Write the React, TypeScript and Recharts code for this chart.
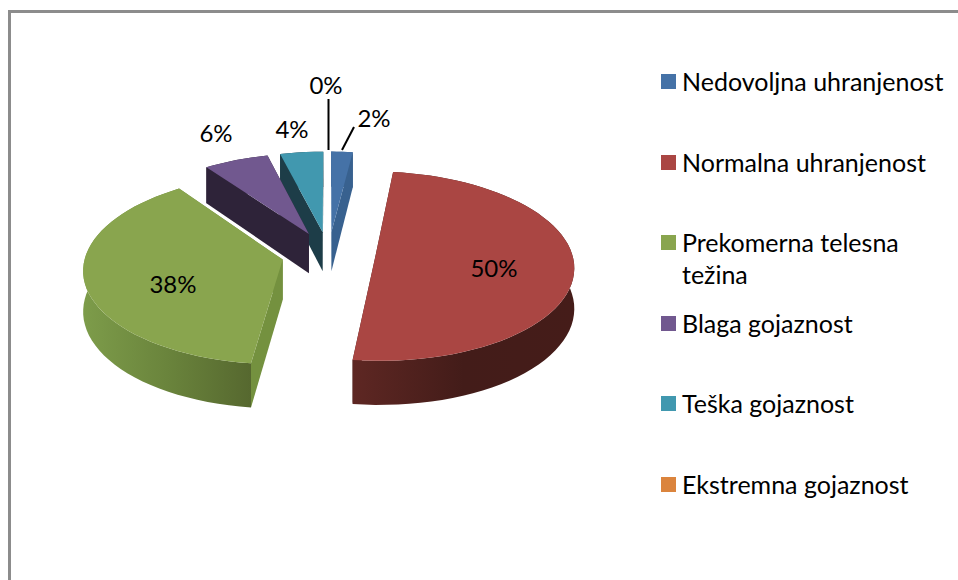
import * as React from 'react';
import { PieChart, Pie, Legend } from 'recharts';

const categories = [
  'Nedovoljna uhranjenost',
  'Normalna uhranjenost',
  'Prekomerna telesna težina',
  'Blaga gojaznost',
  'Teška gojaznost',
  'Ekstremna gojaznost',
];
const percents = [2, 50, 38, 6, 4, 0];

// per-slice colours: top face, cut faces, outer wall left, middle and right
const topColors = ['#4572a7', '#aa4643', '#89a54e', '#71588f', '#4198af', '#db843d'];
const cutColors = ['#38618f', '#441c19', '#74913f', '#2e2339', '#1d3d48', '#a8652d'];
const wallLeft = ['#38618f', '#5e2723', '#7d9c4a', '#2e2339', '#1d3d48', '#a8652d'];
const wallMid = ['#38618f', '#431c19', '#6a843c', '#2e2339', '#1d3d48', '#a8652d'];
const wallRight = ['#38618f', '#451c19', '#56682f', '#2e2339', '#1d3d48', '#a8652d'];

// label anchor per slice, [x, y] centre of the text
const labelAnchors = [
  [374, 117],
  [494, 267],
  [173, 283],
  [216, 132],
  [292, 128],
  [326, 84],
];

const WIDTH = 958;
const HEIGHT = 580;
const FONT = 'Lato, sans-serif';

// 3D look: flattening, perspective, explosion and extrusion of the pie
const TILT = 0.478;
const PERSPECTIVE = 0.0005;
const EXPLODE = 47;
const DEPTH = 40;

// painted back to front: with a counter-clockwise Pie this keeps the slice layout
const pieData = categories
  .map((name, i) => ({ name, value: percents[i], fill: topColors[i] }))
  .reverse();

const RAD = Math.PI / 180;

function project(cx: number, cy: number, X: number, Y: number, drop = 0) {
  const s = 1 + PERSPECTIVE * Y;
  return [cx + X * s, cy + TILT * Y * s + drop * s];
}

const toPath = (pts: number[][]) =>
  'M' + pts.map((p) => `${p[0].toFixed(1)},${p[1].toFixed(1)}`).join('L') + 'Z';

function Slice3D(props: any) {
  const { cx, cy, outerRadius, startAngle, endAngle, name } = props;
  if (Math.abs(endAngle - startAngle) < 0.01) return null;
  const i = categories.indexOf(name);
  const mid = ((startAngle + endAngle) / 2) * RAD;
  const ox = EXPLODE * Math.cos(mid);
  const oy = -EXPLODE * Math.sin(mid);

  const steps = Math.max(4, Math.ceil(Math.abs(endAngle - startAngle) / 3));
  const arc: number[][] = [];
  for (let k = 0; k <= steps; k++) {
    const a = (startAngle + ((endAngle - startAngle) * k) / steps) * RAD;
    arc.push([ox + outerRadius * Math.cos(a), oy - outerRadius * Math.sin(a)]);
  }
  const top = arc.map(([x, y]) => project(cx, cy, x, y));
  const low = arc.map(([x, y]) => project(cx, cy, x, y, DEPTH));
  const apexTop = project(cx, cy, ox, oy);
  const apexLow = project(cx, cy, ox, oy, DEPTH);
  const last = arc.length - 1;
  const gradId = `wall-${i}`;

  return (
    <g>
      <defs>
        <linearGradient id={gradId} x1="0" y1="0" x2="1" y2="0">
          <stop offset="0" stopColor={wallLeft[i]} />
          <stop offset="0.5" stopColor={wallMid[i]} />
          <stop offset="1" stopColor={wallRight[i]} />
        </linearGradient>
      </defs>
      <path d={toPath([apexTop, top[0], low[0], apexLow])} fill={cutColors[i]} />
      <path d={toPath([apexTop, top[last], low[last], apexLow])} fill={cutColors[i]} />
      <path d={toPath([...top, ...low.slice().reverse()])} fill={`url(#${gradId})`} />
      <path d={toPath([apexTop, ...top])} fill={topColors[i]} />
    </g>
  );
}

function SliceLabel(props: any) {
  const { name, value } = props;
  const i = categories.indexOf(name);
  const [x, y] = labelAnchors[i];
  return (
    <g>
      {name === categories[5] && <path d="M328.5,99V150" stroke="#000" strokeWidth={2} fill="none" />}
      {name === categories[0] && <path d="M342,150L354,127" stroke="#000" strokeWidth={2} fill="none" />}
      <text x={x} y={y} textAnchor="middle" dominantBaseline="central" fontFamily={FONT} fontSize={24} fill="#000">
        {`${value}%`}
      </text>
    </g>
  );
}

function ChartLegend() {
  return (
    <div style={{ position: 'relative', width: 290, height: 430, fontFamily: FONT, fontSize: 25, color: '#000', lineHeight: '32px' }}>
      {categories.map((name, i) => (
        <div key={name} style={{ position: 'absolute', left: 0, top: i * 80.5, width: 290 }}>
          <span style={{ position: 'absolute', left: 0, top: 8, width: 15, height: 15, background: topColors[i] }} />
          <span style={{ position: 'absolute', left: 21, top: -1, width: 268 }}>{name}</span>
        </div>
      ))}
    </div>
  );
}

export default function App() {
  return (
    <div style={{ position: 'fixed', left: 0, top: 0, width: WIDTH, height: HEIGHT, overflow: 'hidden', background: '#fff' }}>
      <div style={{ position: 'absolute', left: 8, top: 10, width: 1000, height: 700, border: '3px solid #8c8c8c' }} />
      <PieChart width={WIDTH} height={HEIGHT} style={{ position: 'absolute', left: 0, top: 0 }}>
        <Pie
          data={pieData}
          dataKey="value"
          nameKey="name"
          cx={323.5}
          cy={249}
          outerRadius={197}
          startAngle={-270}
          endAngle={90}
          stroke="none"
          shape={Slice3D}
          label={SliceLabel}
          labelLine={false}
          isAnimationActive={false}
        />
        <Legend
          content={<ChartLegend />}
          wrapperStyle={{ position: 'absolute', left: 661, top: 66, width: 290, bottom: 'auto' }}
        />
      </PieChart>
    </div>
  );
}
